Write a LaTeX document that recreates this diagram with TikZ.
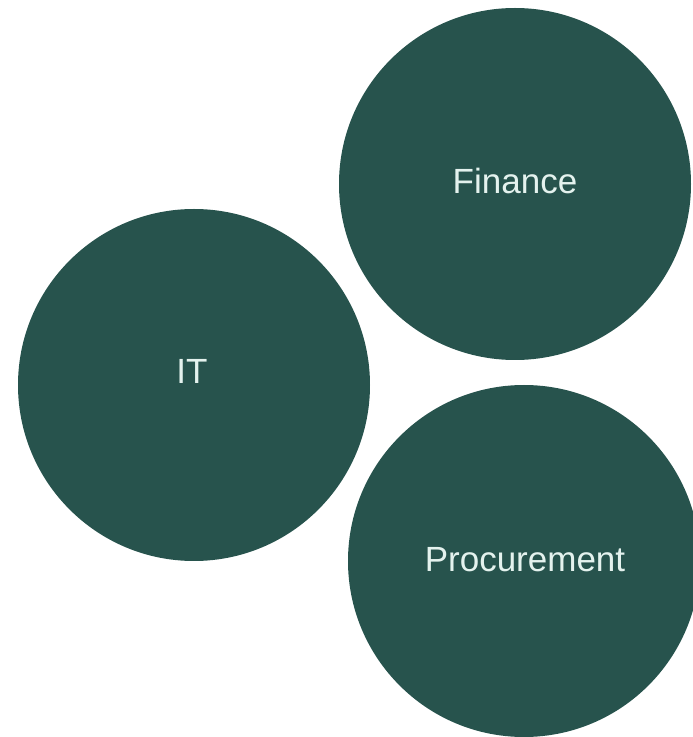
\documentclass[tikz,border=0pt]{standalone}
\usepackage{fontspec}
\setmainfont{Liberation Sans}
\definecolor{teal}{RGB}{39,83,77}
\definecolor{mint}{RGB}{228,242,238}
\begin{document}
\begin{tikzpicture}[x=1pt,y=1pt,
  blob/.style={circle,fill=teal,draw=none,minimum size=352pt,inner sep=0pt},
  tag/.style={text=mint,font=\fontsize{35}{40}\selectfont,inner sep=0pt}]
  \useasboundingbox (0,0) rectangle (693,737);
  \clip (0,0) rectangle (693,737);
  % the three departments
  \node[blob] (fin) at (515,553) {};
  \node[blob] (it) at (194,352) {};
  \node[blob] (proc) at (524,176) {};
  % labels
  \node[tag] (finT) at (515,556) {Finance};
  \node[tag] (itT) at (192,366) {IT};
  \node[tag] (procT) at (525,177) {Procurement};
\end{tikzpicture}
\end{document}
